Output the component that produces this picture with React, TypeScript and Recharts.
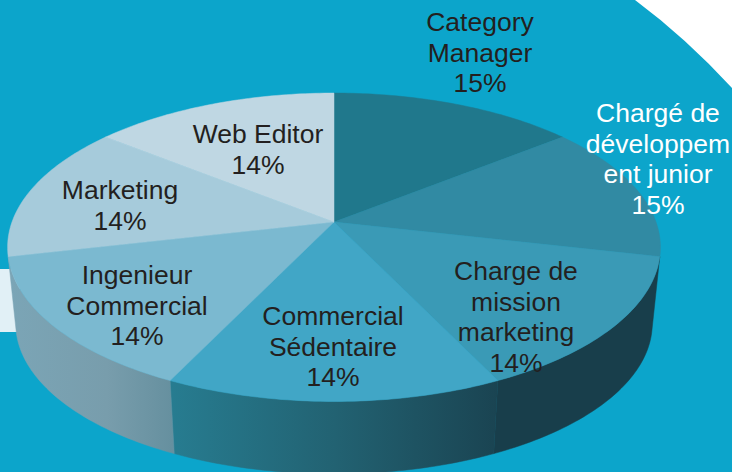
import { PieChart, Pie, Cell } from "recharts";

// all seven slices are drawn the same size in the source, only the printed % differ
const categories = [
  "Category Manager",
  "Chargé de développement junior",
  "Charge de mission marketing",
  "Commercial Sédentaire",
  "Ingenieur Commercial",
  "Marketing",
  "Web Editor",
];
const sliceValues = [1, 1, 1, 1, 1, 1, 1];
const percentLabels = ["15%", "15%", "14%", "14%", "14%", "14%", "14%"];
const labelLines = [
  ["Category", "Manager"],
  ["Chargé de", "développem", "ent junior"],
  ["Charge de", "mission", "marketing"],
  ["Commercial", "Sédentaire"],
  ["Ingenieur", "Commercial"],
  ["Marketing"],
  ["Web Editor"],
];

const topColors = ["#20788c", "#318aa3", "#3a9ab6", "#41a6c6", "#7bb9d0", "#a6cbdb", "#bfd7e3"];
const wallColors = ["none", "none", "#183e4b", "url(#wallMiddle)", "url(#wallLeft)", "none", "none"];
const labelColors = ["#231f20", "#ffffff", "#231f20", "#231f20", "#231f20", "#231f20", "#231f20"];
// x centre and first baseline of each label block
const labelAnchors = [
  [480, 31],
  [658, 122],
  [516, 280],
  [333, 325],
  [137, 284],
  [120, 199],
  [258, 143],
];

const chartData = categories.map((name, i) => ({ name, value: sliceValues[i] }));

const WIDTH = 732;
const HEIGHT = 472;
const CX = 334;
const CY = 222;
const RADIUS = 322;
const FLATTEN = 0.466;
const PERSPECTIVE = 0.1637;
const DEPTH = 77;
const BOTTOM_SCALE = 0.975;
const LINE_STEP = 30.7;

// clockwise degrees from 12 o'clock -> point on the tilted disc
function project(theta: number, cx: number, cy: number, r: number) {
  const rad = (theta * Math.PI) / 180;
  const X = Math.sin(rad);
  const Y = Math.cos(rad);
  const w = 1 + PERSPECTIVE * Y;
  return [cx + (r * X) / w, cy - (r * FLATTEN * Y) / w];
}

function arcPoints(from: number, to: number, cx: number, cy: number, r: number) {
  const pts = [];
  const steps = Math.max(2, Math.ceil(Math.abs(to - from)));
  for (let i = 0; i <= steps; i++) {
    pts.push(project(from + ((to - from) * i) / steps, cx, cy, r));
  }
  return pts;
}

const toPath = (pts: number[][]) =>
  pts.map((p, i) => `${i ? "L" : "M"}${p[0].toFixed(2)} ${p[1].toFixed(2)}`).join(" ");

function TopSlice(props: any) {
  const { cx, cy, outerRadius, startAngle, endAngle, fill } = props;
  const rim = arcPoints(90 - startAngle, 90 - endAngle, cx, cy, outerRadius);
  return <path d={`M${cx} ${cy} ${toPath(rim).replace("M", "L")} Z`} fill={fill} stroke={fill} strokeWidth={0.5} />;
}

function WallSlice(props: any) {
  const { cx, cy, outerRadius, startAngle, endAngle, fill } = props;
  if (fill === "none") return null;
  const from = 90 - startAngle;
  const to = 90 - endAngle;
  const upper = arcPoints(from, to, cx, cy, outerRadius);
  const lower = arcPoints(to, from, cx, cy + DEPTH, outerRadius * BOTTOM_SCALE);
  return <path d={`${toPath(upper)} ${toPath(lower).replace("M", "L")} Z`} fill={fill} stroke={fill} strokeWidth={0.5} />;
}

function SliceLabel({ index }: any) {
  const [x, y] = labelAnchors[index];
  const lines = [...labelLines[index], percentLabels[index]];
  return (
    <text
      x={x}
      y={y}
      textAnchor="middle"
      fontFamily="'Liberation Sans', Arial, sans-serif"
      fontSize={26.5}
      fill={labelColors[index]}
    >
      {lines.map((line, i) => (
        <tspan key={line} x={x} dy={i ? LINE_STEP : 0}>
          {line}
        </tspan>
      ))}
    </text>
  );
}

export default function App() {
  return (
    <div
      style={{
        position: "absolute",
        left: 0,
        top: 0,
        width: WIDTH,
        height: HEIGHT,
        overflow: "hidden",
        background: "#0ca5cb",
      }}
    >
      <div
        style={{
          position: "absolute",
          left: 0,
          top: 269,
          width: 20,
          height: 63,
          background: "#e1f0f6",
        }}
      />
      <svg width={WIDTH} height={HEIGHT} style={{ position: "absolute", left: 0, top: 0 }}>
        <path d="M635 0 Q686 38 732 88 L732 0 Z" fill="#ffffff" />
      </svg>
      <div style={{ position: "absolute", left: 0, top: 0 }}>
        <PieChart width={WIDTH} height={HEIGHT} margin={{ top: 0, right: 0, bottom: 0, left: 0 }}>
          <defs>
            <linearGradient id="wallMiddle" gradientUnits="userSpaceOnUse" x1={172} y1={0} x2={497} y2={0}>
              <stop offset="0" stopColor="#277c90" />
              <stop offset="0.5" stopColor="#226272" />
              <stop offset="1" stopColor="#1a4452" />
            </linearGradient>
            <linearGradient id="wallLeft" gradientUnits="userSpaceOnUse" x1={10} y1={0} x2={172} y2={0}>
              <stop offset="0" stopColor="#7ba5b6" />
              <stop offset="0.6" stopColor="#789dac" />
              <stop offset="1" stopColor="#66909f" />
            </linearGradient>
          </defs>
          <Pie
            data={chartData}
            dataKey="value"
            cx={CX}
            cy={CY}
            outerRadius={RADIUS}
            startAngle={90}
            endAngle={-270}
            stroke="none"
            isAnimationActive={false}
            shape={WallSlice}
          >
            {chartData.map((_, index) => (
              <Cell key={`wall-${index}`} fill={wallColors[index]} />
            ))}
          </Pie>
          <Pie
            data={chartData}
            dataKey="value"
            cx={CX}
            cy={CY}
            outerRadius={RADIUS}
            startAngle={90}
            endAngle={-270}
            stroke="none"
            isAnimationActive={false}
            shape={TopSlice}
            label={SliceLabel}
            labelLine={false}
          >
            {chartData.map((_, index) => (
              <Cell key={`top-${index}`} fill={topColors[index]} />
            ))}
          </Pie>
        </PieChart>
      </div>
    </div>
  );
}
